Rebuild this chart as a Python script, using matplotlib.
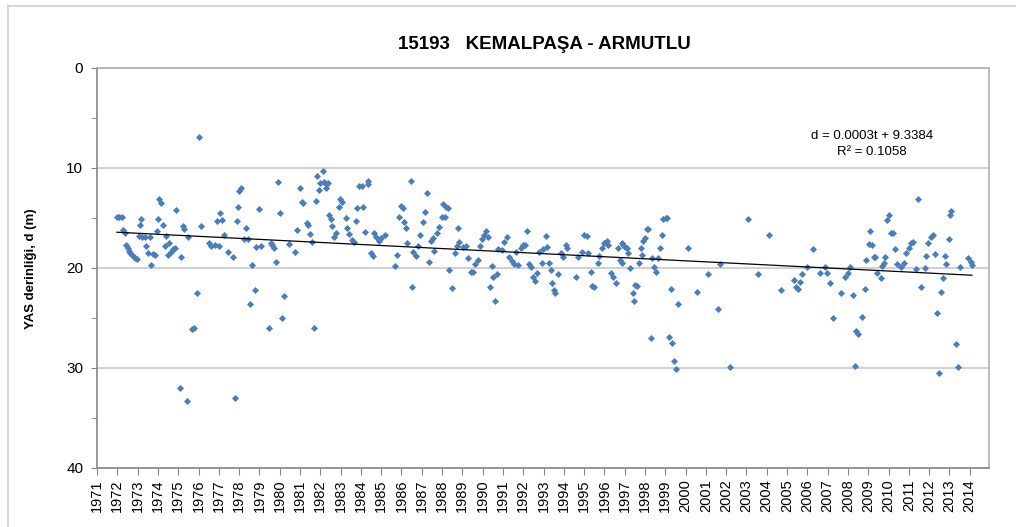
import numpy as np
import matplotlib
matplotlib.use('Agg')
import matplotlib.pyplot as plt
from matplotlib.lines import Line2D

plt.rcParams['font.family'] = ['Liberation Sans', 'DejaVu Sans']

years_70s = [1971.98, 1972.10, 1972.23, 1972.26, 1972.36, 1972.43, 1972.51, 1972.56, 1972.64, 1972.72,
             1972.80, 1972.89, 1972.97, 1973.05, 1973.10, 1973.18, 1973.21, 1973.35, 1973.41, 1973.51,
             1973.62, 1973.67, 1973.74, 1973.84, 1973.95, 1974.00, 1974.07, 1974.17, 1974.25, 1974.33,
             1974.41, 1974.49, 1974.56, 1974.66, 1974.74, 1974.82, 1974.90, 1975.10, 1975.15, 1975.23,
             1975.31, 1975.43, 1975.48, 1975.68, 1975.77, 1975.92, 1976.04, 1976.13, 1976.50, 1976.63,
             1976.82, 1976.91, 1977.00, 1977.07, 1977.15, 1977.28, 1977.45, 1977.68, 1977.78, 1977.89,
             1977.94, 1978.01, 1978.10, 1978.22, 1978.35, 1978.43, 1978.56, 1978.66, 1978.76, 1978.84,
             1978.96, 1979.09, 1979.48, 1979.58]
depth_70s = [14.95, 14.9, 14.9, 16.2, 16.5, 17.7, 18.0, 18.3, 18.5, 18.7,
             18.9, 19.0, 19.1, 16.8, 15.7, 15.1, 16.9, 16.9, 17.8, 18.5,
             16.9, 19.7, 18.6, 18.7, 16.3, 15.1, 13.1, 13.5, 15.7, 17.8,
             16.8, 18.7, 17.5, 18.4, 18.1, 18.0, 14.2, 32.0, 18.9, 15.8,
             16.1, 33.3, 16.9, 26.1, 26.0, 22.5, 6.9, 15.8, 17.5, 17.8,
             17.7, 15.3, 17.8, 14.5, 15.2, 16.7, 18.4, 18.9, 33.0, 15.3,
             13.9, 12.3, 12.0, 17.1, 16.0, 17.1, 23.6, 19.7, 22.2, 17.9,
             14.1, 17.8, 26.0, 17.5]

years_80s = [1979.61, 1979.70, 1979.83, 1979.94, 1980.03, 1980.11, 1980.19, 1980.44, 1980.76, 1980.85,
             1980.98, 1981.09, 1981.17, 1981.34, 1981.42, 1981.50, 1981.58, 1981.67, 1981.78, 1981.86,
             1981.96, 1981.99, 1982.11, 1982.16, 1982.24, 1982.29, 1982.36, 1982.45, 1982.52, 1982.59,
             1982.68, 1982.78, 1982.90, 1982.98, 1983.08, 1983.28, 1983.34, 1983.44, 1983.55, 1983.64,
             1983.75, 1983.83, 1983.93, 1984.05, 1984.10, 1984.21, 1984.33, 1984.37, 1984.51, 1984.59,
             1984.65, 1984.75, 1984.87, 1984.98, 1985.20, 1985.69, 1985.77, 1985.90, 1985.97, 1986.07,
             1986.13, 1986.23, 1986.29, 1986.46, 1986.51, 1986.59, 1986.72, 1986.84, 1986.92, 1987.05,
             1987.16, 1987.25, 1987.38, 1987.44, 1987.54, 1987.61, 1987.74, 1987.87, 1987.99, 1988.07,
             1988.17]
depth_80s = [17.7, 18.0, 19.4, 11.4, 14.5, 25.0, 22.8, 17.6, 18.4, 16.2,
             12.0, 13.4, 13.5, 15.5, 15.7, 16.6, 17.4, 26.0, 13.3, 10.8,
             12.2, 11.5, 10.3, 11.4, 11.5, 12.0, 11.5, 14.7, 15.1, 15.8,
             16.9, 16.5, 13.9, 13.1, 13.4, 15.0, 16.0, 16.6, 17.2, 17.4,
             15.3, 14.0, 11.8, 11.8, 13.9, 16.4, 11.3, 11.6, 18.5, 18.8,
             16.5, 16.9, 17.3, 17.0, 16.7, 19.8, 18.7, 14.9, 13.8, 14.0,
             15.4, 16.0, 17.5, 11.3, 21.9, 18.4, 18.8, 17.8, 16.7, 15.4,
             14.4, 12.5, 19.4, 17.3, 17.0, 18.3, 16.5, 15.9, 14.9, 13.6,
             14.9]

years_90s = [1988.18, 1988.28, 1988.35, 1988.48, 1988.64, 1988.72, 1988.77, 1988.84, 1989.05, 1989.17,
             1989.27, 1989.43, 1989.54, 1989.63, 1989.76, 1989.87, 1989.99, 1990.09, 1990.15, 1990.25,
             1990.36, 1990.45, 1990.53, 1990.61, 1990.69, 1990.77, 1990.94, 1991.07, 1991.19, 1991.30,
             1991.43, 1991.56, 1991.63, 1991.76, 1991.89, 1992.00, 1992.09, 1992.17, 1992.29, 1992.38,
             1992.50, 1992.58, 1992.66, 1992.79, 1992.91, 1992.99, 1993.10, 1993.16, 1993.27, 1993.37,
             1993.43, 1993.53, 1993.57, 1993.70, 1993.86, 1993.98, 1994.09, 1994.14, 1994.58, 1994.71,
             1994.88, 1995.01, 1995.12, 1995.21, 1995.34, 1995.40, 1995.50, 1995.67, 1995.73, 1995.86,
             1995.99, 1996.11, 1996.19, 1996.32, 1996.44, 1996.55, 1996.68, 1996.77]
depth_90s = [13.9, 14.0, 20.2, 22.0, 18.5, 17.8, 16.0, 17.4, 17.9, 17.8,
             19.0, 20.4, 20.4, 19.6, 19.2, 17.8, 17.1, 16.7, 16.3, 16.9,
             21.9, 19.8, 20.9, 23.3, 20.6, 18.1, 18.2, 17.4, 16.9, 18.9,
             19.3, 19.6, 18.4, 19.7, 18.0, 17.7, 17.7, 16.3, 19.6, 19.9,
             20.9, 21.3, 20.5, 18.4, 19.5, 18.1, 16.8, 17.9, 19.5, 20.2,
             21.5, 22.2, 22.5, 20.6, 18.5, 18.9, 17.7, 18.0, 20.9, 18.9,
             18.4, 16.7, 16.8, 18.5, 20.4, 21.8, 21.9, 19.5, 18.8, 18.0,
             17.5, 17.3, 17.7, 20.5, 20.9, 21.5, 18.0, 19.2]

years_00s = [1996.85, 1996.85, 1996.93, 1997.01, 1997.09, 1997.18, 1997.26, 1997.39, 1997.46, 1997.50,
             1997.59, 1997.72, 1997.78, 1997.83, 1997.92, 1998.00, 1998.08, 1998.16, 1998.28, 1998.37,
             1998.44, 1998.54, 1998.65, 1998.74, 1998.82, 1998.90, 1999.03, 1999.10, 1999.20, 1999.26,
             1999.31, 1999.42, 1999.52, 1999.64, 2000.13, 2000.57, 2001.12, 2001.61, 2001.69, 2002.18,
             2003.09, 2003.58, 2004.12, 2004.68, 2005.33, 2005.46, 2005.55]
depth_00s = [17.5, 19.5, 17.7, 17.9, 18.0, 18.5, 20.0, 22.5, 23.3, 21.7,
             21.8, 19.5, 18.0, 18.7, 17.3, 17.0, 16.1, 16.1, 27.0, 19.0,
             19.9, 20.4, 19.0, 18.0, 16.7, 15.1, 15.0, 15.0, 26.9, 22.1,
             27.5, 29.3, 30.1, 23.6, 18.0, 22.4, 20.6, 24.1, 19.6, 29.9,
             15.1, 20.6, 16.7, 22.2, 21.2, 21.9, 22.1]

years_10s = [2005.63, 2005.74, 2005.96, 2006.28, 2006.61, 2006.86, 2006.99, 2007.11, 2007.27, 2007.68,
             2007.88, 2007.98, 2008.09, 2008.25, 2008.34, 2008.42, 2008.50, 2008.70, 2008.83, 2008.91,
             2009.03, 2009.07, 2009.19, 2009.29, 2009.35, 2009.45, 2009.62, 2009.68, 2009.78, 2009.85,
             2009.94, 2010.01, 2010.11, 2010.22, 2010.34, 2010.44, 2010.60, 2010.77, 2010.88, 2011.00,
             2011.09, 2011.21, 2011.37, 2011.45, 2011.59, 2011.82, 2011.86, 2011.95, 2012.08, 2012.19,
             2012.27, 2012.41, 2012.47, 2012.60, 2012.69, 2012.77, 2012.85, 2012.96, 2013.01, 2013.06,
             2013.34, 2013.42, 2013.51, 2013.92, 2014.05, 2014.11]
depth_10s = [21.4, 20.6, 19.9, 18.1, 20.5, 19.9, 20.5, 21.5, 25.0, 22.5,
             20.9, 20.5, 19.9, 22.7, 29.8, 26.3, 26.6, 24.9, 22.1, 19.2,
             17.6, 16.3, 17.7, 18.9, 18.9, 20.5, 21.0, 19.8, 19.5, 18.9,
             15.2, 14.7, 16.5, 16.5, 18.1, 19.6, 19.9, 19.5, 18.5, 18.0,
             17.5, 17.4, 20.1, 13.1, 21.9, 20.0, 18.8, 17.5, 16.9, 16.7,
             18.6, 24.5, 30.5, 22.4, 21.0, 18.8, 19.6, 17.1, 14.7, 14.3,
             27.6, 29.9, 19.9, 19.0, 19.4, 19.7]

year_ticks = list(range(1971, 2015))
title = '15193   KEMALPAŞA - ARMUTLU'
eq_text = 'd = 0.0003t + 9.3384\nR² = 0.1058'

t = np.array(years_70s + years_80s + years_90s + years_00s + years_10s)
d = np.array(depth_70s + depth_80s + depth_90s + depth_00s + depth_10s)

# linear trend
coef = np.polyfit(t, d, 1)
tt = np.array([t.min(), t.max()])

fig = plt.figure(figsize=(10.16, 5.27), dpi=100)
ax = fig.add_axes([0.0955, 0.112, 0.8775, 0.759])

ax.scatter(t, d, marker='D', s=13, color='#4A7EBB', linewidths=0, zorder=3)
ax.plot(tt, np.polyval(coef, tt), color='black', lw=0.9, zorder=4)

ax.set_xlim(1971, 2014.93)
ax.set_ylim(40, 0)
ax.set_xticks(year_ticks)
ax.set_xticklabels([str(y) for y in year_ticks], rotation=90, fontsize=10.5)
ax.set_yticks([0, 10, 20, 30, 40])
ax.set_yticks([5, 15, 25, 35], minor=True)
ax.tick_params(axis='y', which='both', direction='out', length=4, color='#868686', labelsize=11, pad=6)
ax.tick_params(axis='x', direction='out', length=5, color='#868686', pad=3)

ax.grid(axis='y', which='major', color='#C8C8C8', lw=1.2)
ax.set_axisbelow(True)
for s in ['left', 'bottom']:
    ax.spines[s].set_color('#868686')
    ax.spines[s].set_linewidth(1.2)
for s in ['top', 'right']:
    ax.spines[s].set_color('#B0B0B0')
    ax.spines[s].set_linewidth(1.2)

fig.text(0.536, 0.915, title, ha='center', va='center', fontsize=13.5, fontweight='bold')
fig.text(0.031, 0.491, 'YAS derinliği, d (m)', rotation=90, ha='center', va='center',
         fontsize=9.5, fontweight='bold')
ax.text(0.869, 0.81, eq_text, transform=ax.transAxes, ha='center', va='center',
        fontsize=9.5, linespacing=1.35)

# outer chart border
fig.add_artist(Line2D([0.008, 1.0], [0.989, 0.989], color='#D0D0D0', lw=1.2))
fig.add_artist(Line2D([0.008, 0.008], [0.0, 0.989], color='#D0D0D0', lw=1.2))

fig.savefig('out.png', dpi=100)
